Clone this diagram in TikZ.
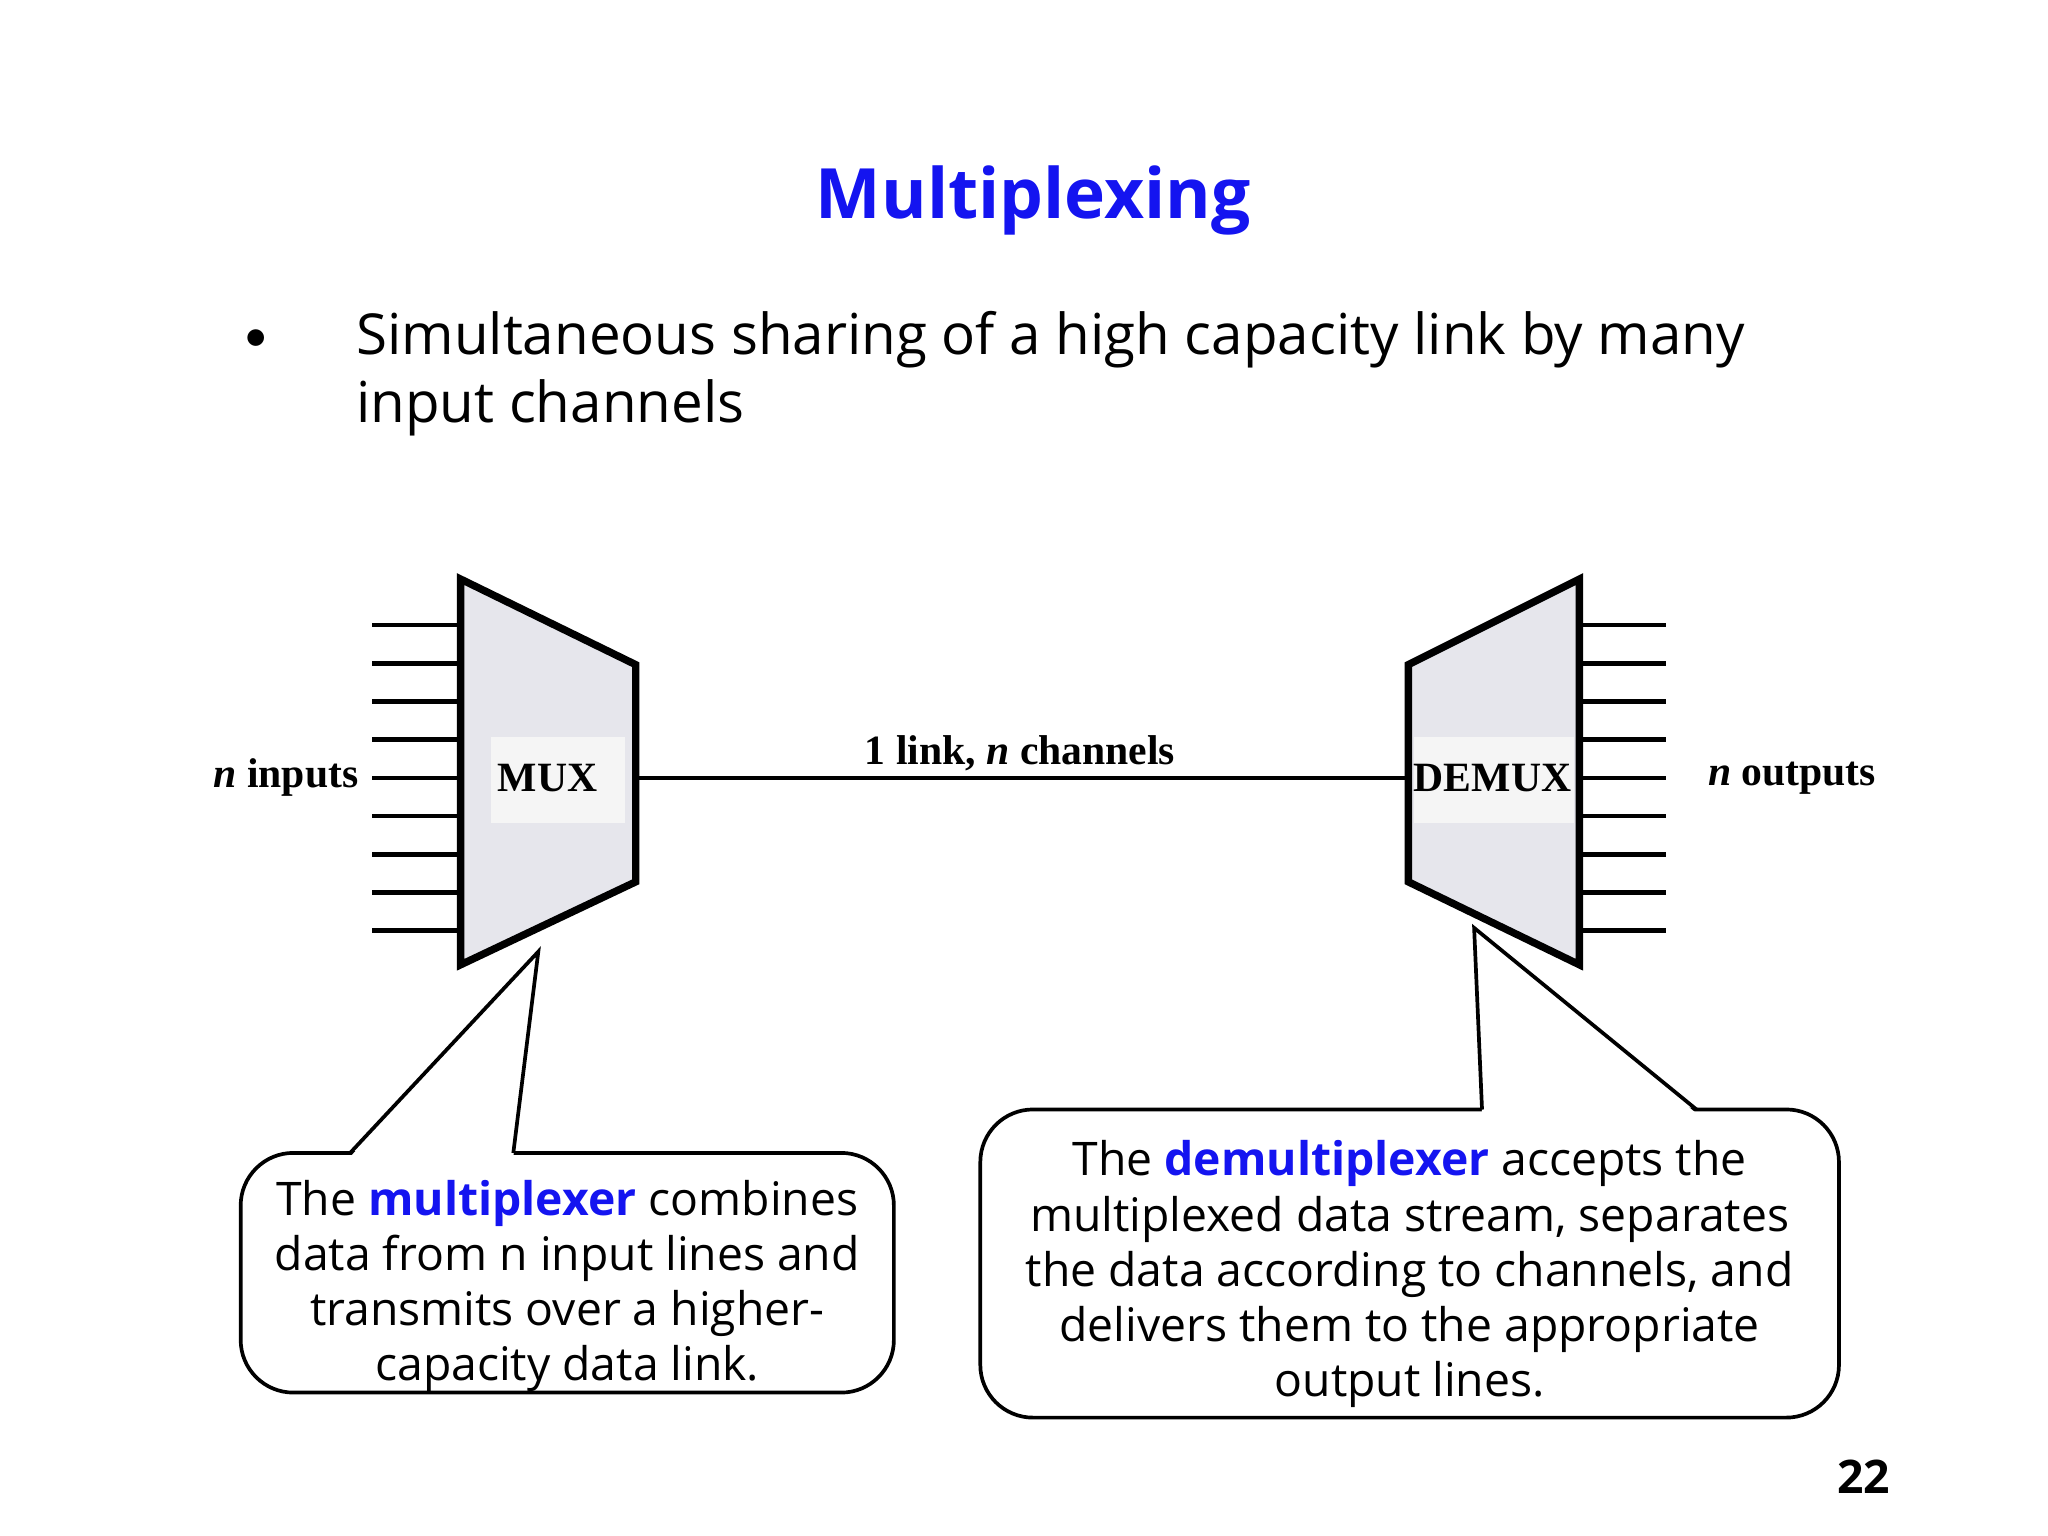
\documentclass[tikz,border=0pt]{standalone}
\usepackage{fontspec}
\setmainfont{Liberation Serif}
\newfontfamily\cfont{Open Sans}
\definecolor{tblue}{RGB}{20,20,240}
\definecolor{boxgray}{RGB}{230,230,236}
\begin{document}
\begin{tikzpicture}[x=0.01cm,y=-0.01cm,
  lbl/.style={font=\fontsize{9}{11}\selectfont\bfseries, inner sep=0pt},
  ctext/.style={font=\cfont\fontsize{10}{11.9}\selectfont, align=center, inner sep=0pt},
  dev/.style={draw=black, line width=1.6pt, fill=boxgray, line join=miter},
  wire/.style={line width=1pt},
  call/.style={draw=black, line width=0.8pt, rounded corners=0.4cm, fill=white}]
\useasboundingbox (0,0) rectangle (1556,1167);
\node[font=\cfont\fontsize{15}{20}\selectfont\bfseries, text=tblue] (title) at (785,152) {Multiplexing};
\node[font=\cfont\fontsize{9}{12}\selectfont] (bul) at (195,258) {$\bullet$};
\node[font=\cfont\fontsize{12.2}{15}\selectfont, anchor=west, inner sep=0pt] (b1) at (270,258) {Simultaneous sharing of a high capacity link by many};
\node[font=\cfont\fontsize{12.2}{15}\selectfont, anchor=west, inner sep=0pt] (b2) at (270,310) {input channels};
% wires
\foreach \i in {0,...,8}{
  \coordinate (il\i) at (283,{475+29*\i});
  \coordinate (ir\i) at (350,{475+29*\i});
  \coordinate (ol\i) at (1200,{475+29*\i});
  \coordinate (or\i) at (1266,{475+29*\i});
  \draw[wire] (il\i) -- (ir\i);
  \draw[wire] (ol\i) -- (or\i);
}
\draw[dev] (350,440) -- (483,505) -- (483,670) -- (350,733) -- cycle;
\draw[dev] (1200,440) -- (1070,505) -- (1070,670) -- (1200,733) -- cycle;
\fill[gray!8] (373,560) rectangle (475,625);
\fill[gray!8] (1074,560) rectangle (1196,625);
\node[lbl] (mux) at (416,591) {MUX};
\node[lbl] (demux) at (1134,591) {DEMUX};
\coordinate (ml) at (483,591); \coordinate (dl) at (1070,591);
\draw[wire] (ml) -- (dl);
\node[lbl] (link) at (775,572) {1 link, \textit{n} channels};
\node[lbl, anchor=east] (inp) at (273,591) {\textit{n} inputs};
\node[lbl, anchor=west] (outp) at (1297,591) {\textit{n} outputs};
% callout 1
\node[call, minimum width=4.96cm, minimum height=1.82cm] (c1) at (431,967) {};
\coordinate (p1a) at (266,876); \coordinate (p1t) at (409,723); \coordinate (p1b) at (390,876);
\fill[white] (266,879) -- (p1t) -- (390,879) -- cycle;
\draw[line width=0.8pt] (p1a) -- (p1t) -- (p1b);
\node[ctext] (t1) at (431,977) {The \textcolor{tblue}{\bfseries multiplexer} combines\\data from n input lines and\\transmits over a higher-\\capacity data link.};
% callout 2
\node[call, minimum width=6.52cm, minimum height=2.34cm] (c2) at (1071,960) {};
\coordinate (p2a) at (1126,843); \coordinate (p2t) at (1120,705); \coordinate (p2b) at (1289,843);
\fill[white] (1126,846) -- (p2t) -- (1289,846) -- cycle;
\draw[line width=0.8pt] (p2a) -- (p2t) -- (p2b);
\node[ctext] (t2) at (1071,968) {The \textcolor{tblue}{\bfseries demultiplexer} accepts the\\multiplexed data stream, separates\\the data according to channels, and\\delivers them to the appropriate\\output lines.};
\node[font=\cfont\fontsize{10}{12}\selectfont\bfseries] (pg) at (1416,1122) {22};
\end{tikzpicture}
\end{document}
